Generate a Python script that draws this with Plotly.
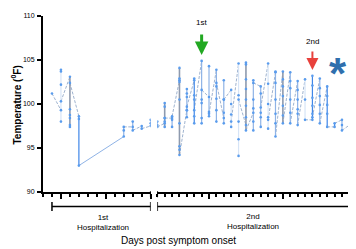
import plotly.graph_objects as go

# ---------------- data ----------------
# 1st hospitalization: day -> readings (temporal order)
hosp1_days = [4, 5, 6, 7, 12, 13, 14, 15]
hosp1_temps = [
    [101.2],
    [99.3, 98.0, 103.9, 103.7, 102.2, 100.3],
    [103.1, 99.4, 98.75, 98.4, 97.6, 97.4, 102.4],
    [98.6, 98.3, 93.0],
    [96.3, 97.0, 97.4],
    [97.4, 98.0, 97.0],
    [97.5, 97.2],
    [97.5, 98.2, 97.8],
]

# 2nd hospitalization
hosp2_days = list(range(23, 50))
hosp2_temps = [
    [97.6, 98.0, 97.4],
    [97.8, 100.1, 99.7, 98.4, 98.0, 97.4, 98.4],
    [98.4, 98.2, 97.4, 98.6],
    [102.7, 104.1, 102.9, 102.5, 100.5, 97.8, 95.2, 94.8, 94.2],
    [99.3, 101.7, 101.2, 100.8, 99.3, 98.5, 99.7],
    [102.7, 102.9, 101.0, 100.5, 98.6, 97.8, 99.3],
    [104.9, 100.1, 98.4, 97.8, 100.5, 101.6],
    [100.8, 104.3, 99.1, 98.6, 98.9],
    [103.9, 102.0, 100.6, 99.3, 98.0, 102.4],
    [98.4, 102.7, 100.5, 99.0, 97.8, 100.5],
    [101.6, 100.0, 98.8, 97.4, 98.0],
    [104.6, 101.0, 98.0, 96.0, 94.1, 100.5],
    [97.6, 104.7, 104.5, 102.8, 101.7, 100.5, 99.8, 98.5, 97.0],
    [99.0, 102.7, 100.5, 99.5, 98.0, 97.0, 102.4],
    [102.0, 101.2, 99.0, 98.5, 97.4, 99.6],
    [104.6, 102.3, 100.0, 98.5, 97.2, 98.2],
    [103.6, 103.7, 102.4, 100.5, 98.9, 97.8, 96.3],
    [103.7, 102.8, 102.0, 100.9, 99.8, 98.7, 97.8],
    [103.6, 102.6, 101.8, 100.5, 99.0, 97.8],
    [102.6, 101.6, 100.5, 99.4, 98.9, 97.6],
    [102.8, 100.5, 98.2],
    [98.2, 103.2, 102.1, 100.7, 99.8, 98.9, 98.5],
    [102.9, 101.8, 100.9, 99.9, 98.9, 97.8],
    [102.0, 100.9, 99.9, 98.9, 97.4],
    [97.4, 97.8],
    [98.2, 97.6, 97.0],
    [97.6, 97.3],
]

y_ticks = [90, 95, 100, 105, 110]
y_ticklabels = ["90", "95", "100", "105", "110"]

# ---------------- styles ----------------
FONT = "Arial, Liberation Sans, sans-serif"
COL_DEFAULT = "#8fb3e6"
COL_GRAY = "#8e9aae"
COL_LIGHT = "#d6e4f6"
COL_BRIGHT = "#3f86e8"
MARK_COL = "#5a9ced"
LINK_COL = "#9fb3cf"
day_colors1 = {5: COL_LIGHT, 6: COL_GRAY, 7: COL_BRIGHT}
day_colors2 = {24: COL_GRAY, 26: COL_GRAY, 28: COL_BRIGHT, 33: COL_LIGHT,
               34: COL_LIGHT, 35: COL_GRAY, 38: COL_LIGHT, 40: COL_GRAY,
               43: COL_LIGHT, 44: COL_BRIGHT, 46: COL_BRIGHT, 47: COL_BRIGHT}


def add_segment(fig, days, temps, xaxis, colors):
    # connectors: last reading of a day to first reading of the next day
    lx, ly, gx, gy = [], [], [], []
    for i in range(len(days) - 1):
        seg_x = [days[i], days[i + 1], None]
        seg_y = [temps[i][-1], temps[i + 1][0], None]
        if days[i + 1] - days[i] > 1:
            gx += seg_x
            gy += seg_y
        else:
            lx += seg_x
            ly += seg_y
    fig.add_trace(go.Scatter(x=lx, y=ly, xaxis=xaxis, yaxis="y", mode="lines",
                             line=dict(color=LINK_COL, width=1, dash="3px,1.5px"),
                             hoverinfo="skip", showlegend=False))
    if gx:
        fig.add_trace(go.Scatter(x=gx, y=gy, xaxis=xaxis, yaxis="y", mode="lines",
                                 line=dict(color=COL_DEFAULT, width=1),
                                 hoverinfo="skip", showlegend=False))
    # daily vertical ranges
    for d, t in zip(days, temps):
        if len(t) < 2:
            continue
        fig.add_trace(go.Scatter(x=[d, d], y=[min(t), max(t)], xaxis=xaxis,
                                 yaxis="y", mode="lines",
                                 line=dict(color=colors.get(d, COL_DEFAULT),
                                           width=1.6 if colors.get(d) == COL_GRAY else 1.2),
                                 hoverinfo="skip", showlegend=False))
    # readings
    xs, ys = [], []
    for d, t in zip(days, temps):
        xs += [d] * len(t)
        ys += t
    fig.add_trace(go.Scatter(x=xs, y=ys, xaxis=xaxis, yaxis="y", mode="markers",
                             marker=dict(color=MARK_COL, size=2.6),
                             showlegend=False))


fig = go.Figure()
add_segment(fig, hosp1_days, hosp1_temps, "x", day_colors1)
add_segment(fig, hosp2_days, hosp2_temps, "x2", day_colors2)

x_common = dict(showline=True, linecolor="black", linewidth=2, showgrid=False,
                zeroline=False, showticklabels=False, ticks="outside",
                ticklen=5, tickwidth=1.5, tickcolor="black", tickmode="linear",
                tick0=0, anchor="y",
                minor=dict(ticks="outside", ticklen=3, tickwidth=1.5,
                           tickcolor="black", dtick=1, showgrid=False))

# page body has an 8px margin, so the figure is 8px smaller with 8px less margin
fig.update_layout(
    width=348, height=241,
    margin=dict(l=35, r=0, t=8, b=57),
    paper_bgcolor="white", plot_bgcolor="white",
    font=dict(family=FONT, color="black"),
    xaxis=dict(domain=[0, 0.344], range=[3, 15], dtick=5, **x_common),
    xaxis2=dict(domain=[0.3652, 1], range=[23, 49.9], dtick=10, **x_common),
    yaxis=dict(range=[90, 110], tickvals=y_ticks, ticktext=y_ticklabels,
               showline=True, linecolor="black", linewidth=2, showgrid=False,
               zeroline=False, ticks="outside", ticklen=4, tickwidth=1.5,
               tickcolor="black", ticklabelstandoff=1,
               tickfont=dict(size=7, family="Arial Black, Arial, sans-serif")),
)

# break marks and hospitalization brackets
shapes = [
    dict(type="line", xref="x", yref="paper", x0=15, x1=15, y0=-0.03, y1=0.005,
         line=dict(color="black", width=1.5)),
    dict(type="line", xref="x2", yref="paper", x0=23, x1=23, y0=-0.03, y1=0.005,
         line=dict(color="black", width=1.5)),
    dict(type="line", xref="x", yref="paper", x0=4, x1=15, y0=-0.0824, y1=-0.0824,
         line=dict(color="black", width=1.5)),
    dict(type="line", xref="x", yref="paper", x0=4, x1=4, y0=-0.0568, y1=-0.108,
         line=dict(color="black", width=1.5)),
    dict(type="line", xref="x", yref="paper", x0=15, x1=15, y0=-0.0568, y1=-0.108,
         line=dict(color="black", width=1.5)),
    dict(type="line", xref="x2", yref="paper", x0=23, x1=50, y0=-0.0824, y1=-0.0824,
         line=dict(color="black", width=1.5)),
    dict(type="line", xref="x2", yref="paper", x0=23, x1=23, y0=-0.0568, y1=-0.108,
         line=dict(color="black", width=1.5)),
]
fig.update_layout(shapes=shapes)

ann = [
    dict(text="<b>Temperature (<sup>0</sup>F)</b>", xref="paper", yref="paper",
         x=-0.0863, y=0.497, textangle=-90, showarrow=False,
         font=dict(size=10, family=FONT, color="black"), xanchor="center",
         yanchor="middle"),
    dict(text="Days post symptom onset", xref="paper", yref="paper", x=0.432,
         y=-0.277, showarrow=False, font=dict(size=10), xanchor="center",
         yanchor="middle"),
    dict(text="1st<br>Hospitalization", xref="paper", yref="paper", x=0.1917,
         y=-0.173, showarrow=False, font=dict(size=8), xanchor="center",
         yanchor="middle"),
    dict(text="2nd<br>Hospitalization", xref="paper", yref="paper", x=0.67,
         y=-0.168, showarrow=False, font=dict(size=8), xanchor="center",
         yanchor="middle"),
    dict(text="1st", xref="x2", yref="y", x=29, y=109.3, showarrow=False,
         font=dict(size=8), xanchor="center", yanchor="middle"),
    dict(text="2nd", xref="x2", yref="y", x=44, y=107.1, showarrow=False,
         font=dict(size=8), xanchor="center", yanchor="middle"),
    dict(text="", xref="x2", yref="y", x=29, y=105.57, showarrow=True,
         arrowhead=2, arrowsize=0.9, arrowwidth=3, arrowcolor="#22a822",
         ax=0, ay=-22),
    dict(text="", xref="x2", yref="y", x=44, y=103.86, showarrow=True,
         arrowhead=2, arrowsize=1.2, arrowwidth=2, arrowcolor="#e8413c",
         ax=0, ay=-20),
    dict(text="<b>*</b>", xref="x2", yref="y", x=47.5, y=104.5, showarrow=False,
         font=dict(size=44, color="#2f6fad", family=FONT), xanchor="center",
         yanchor="middle", yshift=-9),
    dict(text="3rd", xref="x2", yref="y", x=49.3, y=101.4, showarrow=False,
         font=dict(size=8), xanchor="left", yanchor="middle"),
]
fig.update_layout(annotations=ann)

fig.write_html("out.html")
